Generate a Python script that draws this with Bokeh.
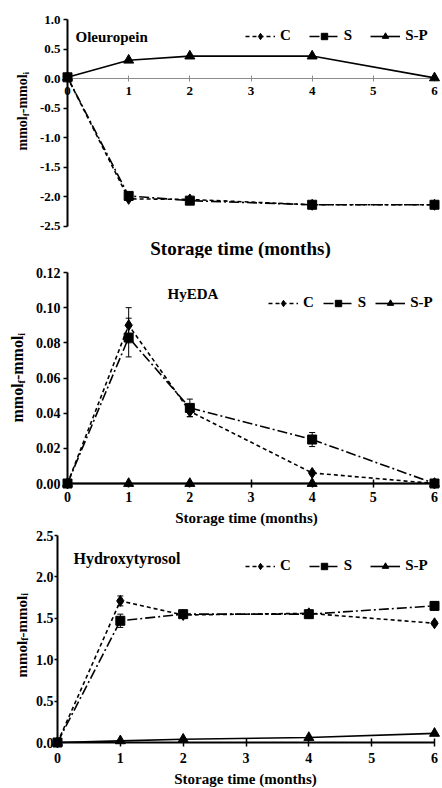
import math
from bokeh.plotting import figure
from bokeh.models import (Range1d, FixedTicker, PrintfTickFormatter, Label, Legend, LegendItem,
                          ColumnDataSource, Whisker, TeeHead, LinearAxis)
from bokeh.layouts import column
from bokeh.embed import file_html
from bokeh.resources import INLINE

# ---------------- data ----------------
months = [0, 1, 2, 4, 6]
x_ticks = [0, 1, 2, 3, 4, 5, 6]
series_names = ["C", "S", "S-P"]

ole_C = [0.02, -2.04, -2.05, -2.14, -2.14]
ole_S = [0.02, -1.99, -2.07, -2.14, -2.14]
ole_SP = [0.02, 0.31, 0.38, 0.38, 0.01]

hyeda_C = [0.0, 0.090, 0.041, 0.006, 0.0]
hyeda_C_err = [0.0, 0.010, 0.003, 0.001, 0.0]
hyeda_S = [0.0, 0.083, 0.043, 0.025, 0.0]
hyeda_S_err = [0.0, 0.011, 0.005, 0.004, 0.0]
hyeda_SP = [0.0, 0.0, 0.0, 0.0, 0.0]

hyd_C = [0.0, 1.71, 1.54, 1.56, 1.44]
hyd_C_err = [0.0, 0.06, 0.02, 0.02, 0.02]
hyd_S = [0.0, 1.47, 1.55, 1.55, 1.65]
hyd_S_err = [0.0, 0.08, 0.02, 0.03, 0.05]
hyd_SP = [0.0, 0.02, 0.04, 0.06, 0.11]

ole_yticks = [-2.5, -2.0, -1.5, -1.0, -0.5, 0.0, 0.5, 1.0]
hyeda_yticks = [0.0, 0.02, 0.04, 0.06, 0.08, 0.10, 0.12]
hyd_yticks = [0.0, 0.5, 1.0, 1.5, 2.0, 2.5]

x_title = "Storage time (months)"

FONT = "Liberation Serif"
ADV = {"m": 0.833, "o": 0.5, "l": 0.278, "-": 0.333, "f": 0.333, "i": 0.278}
W = 442


def text_width(s, size):
    return sum(ADV[c] for c in s) * size


def lab(p, x, y, text, size, align="left", baseline="middle", angle=0.0):
    p.add_layout(Label(x=x, y=y, x_units="screen", y_units="screen", text=text,
                       angle=angle, text_align=align, text_baseline=baseline,
                       text_font=FONT, text_font_style="bold",
                       text_font_size=f"{size}px", text_color="black"))


def add_ylabel(p, bx, sy, F):
    Fs = round(F * 0.65)
    shift = F * 0.22
    pos = sy
    for txt, sub in [("mmol", False), ("f", True), ("-mmol", False), ("i", True)]:
        size = Fs if sub else F
        lab(p, bx + (shift if sub else 0), pos, txt, size, align="left",
            baseline="alphabetic", angle=math.pi / 2)
        pos += text_width(txt, size)


def style_labels(ax, size):
    ax.major_label_text_font = FONT
    ax.major_label_text_font_style = "bold"
    ax.major_label_text_font_size = f"{size}px"
    ax.major_label_text_color = "black"
    ax.minor_tick_line_color = None


def make_panel(height, px0, px6, py_top, py_zero, ytop, ybottom, yticks, yfmt, tick_font,
               top_style=False, xstandoff=4, ystandoff=2, ytick_out=4):
    # the frame fills the whole figure; ranges chosen so the axes cross where they should
    xs = (px6 - px0) / 6.0
    ys = (py_zero - py_top) / (ytop - 0.0) if ytop != 0 else 1
    x_start = -px0 / xs
    x_end = (W - px0) / xs
    y_end = ytop + py_top / ys
    y_start = -(height - py_zero) / ys
    p = figure(width=W, height=height, x_range=Range1d(x_start, x_end),
               y_range=Range1d(y_start, y_end), output_backend="svg", toolbar_location=None,
               x_axis_location=None, y_axis_location=None,
               min_border=0, min_border_left=0, min_border_right=0, min_border_top=0,
               min_border_bottom=0)
    p.grid.visible = False
    p.outline_line_color = None
    p.background_fill_color = "white"

    yf = LinearAxis(fixed_location=0, bounds=(ybottom, ytop), ticker=FixedTicker(ticks=yticks),
                    formatter=PrintfTickFormatter(format=yfmt),
                    axis_line_width=2, axis_line_color="black",
                    major_tick_in=0, major_tick_out=ytick_out, major_tick_line_width=1.5,
                    major_tick_line_color="black", major_label_standoff=ystandoff)
    style_labels(yf, tick_font)
    p.add_layout(yf, "left")
    if top_style:
        xf = LinearAxis(fixed_location=0, bounds=(0, 6), ticker=FixedTicker(ticks=x_ticks),
                        axis_line_width=1, axis_line_color="#8c8c8c",
                        major_tick_in=3, major_tick_out=3, major_tick_line_color="#8c8c8c",
                        major_label_standoff=xstandoff)
    else:
        xf = LinearAxis(fixed_location=0, bounds=(0, 6), ticker=FixedTicker(ticks=x_ticks),
                        axis_line_width=2, axis_line_color="black",
                        major_tick_in=4, major_tick_out=4, major_tick_line_width=1.5,
                        major_tick_line_color="black", major_label_standoff=xstandoff)
    style_labels(xf, tick_font)
    xf.level = "underlay"
    p.add_layout(xf, "below")
    return p


def add_series(p, c, s, sp, c_err=None, s_err=None):
    lc = p.line(months, c, line_color="black", line_width=1.6, line_dash="4 3")
    ls = p.line(months, s, line_color="black", line_width=1.6, line_dash="10 3 2 3")
    lsp = p.line(months, sp, line_color="black", line_width=1.6)
    for vals, err in ((c, c_err), (s, s_err)):
        if err is not None:
            src = ColumnDataSource(dict(x=months,
                                        upper=[v + e for v, e in zip(vals, err)],
                                        lower=[v - e for v, e in zip(vals, err)]))
            p.add_layout(Whisker(source=src, base="x", upper="upper", lower="lower",
                                 line_color="black", line_width=1,
                                 upper_head=TeeHead(size=6, line_width=1, line_color="black"),
                                 lower_head=TeeHead(size=6, line_width=1, line_color="black")))
    mc = p.scatter(months, c, marker="diamond", size=11, fill_color="black", line_color="black")
    ms = p.scatter(months, s, marker="square", size=9, fill_color="black", line_color="black")
    msp = p.scatter(months, sp, marker="triangle", size=10, fill_color="black", line_color="black")
    return [[lc, mc], [ls, ms], [lsp, msp]]


def add_legend(p, groups, vx, vy, spacing):
    items = [LegendItem(label=n, renderers=g) for n, g in zip(series_names, groups)]
    leg = Legend(items=items, orientation="horizontal", location=(vx, vy),
                 glyph_width=30, glyph_height=16, label_height=16, label_width=1,
                 label_standoff=5, spacing=spacing, padding=0, margin=0,
                 border_line_color=None, background_fill_alpha=0,
                 label_text_font=FONT, label_text_font_style="bold",
                 label_text_font_size="15px", label_text_color="black")
    p.add_layout(leg)


# ---------------- panel 1: Oleuropein (figure rows 0-258) ----------------
H1 = 258
p1 = make_panel(H1, 67, 434, 19, 78, 1.0, -2.5, ole_yticks, "%.1f", 13,
                top_style=True, xstandoff=5, ystandoff=3)
# y = 1.0 sits at row 19 and y = 0 at row 78 (60 px per unit)
g1 = add_series(p1, ole_C, ole_S, ole_SP)
add_legend(p1, g1, 245, H1 - 44, 18)
lab(p1, 75, H1 - 36, "Oleuropein", 15)
lab(p1, 240, H1 - 248, x_title, 19, align="center")
add_ylabel(p1, 22, H1 - 150, 14)

# ---------------- panel 2: HyEDA (rows 258-527) ----------------
H2 = 269
p2 = make_panel(H2, 67, 434, 272 - 258, 483 - 258, 0.12, 0.0, hyeda_yticks, "%.2f", 14,
                xstandoff=4, ystandoff=3)
g2 = add_series(p2, hyeda_C, hyeda_S, hyeda_SP, hyeda_C_err, hyeda_S_err)
add_legend(p2, g2, 268, H2 - (311 - 258), 9)
lab(p2, 167, H2 - (293 - 258), "HyEDA", 15)
lab(p2, 246, H2 - (517 - 258), x_title, 15, align="center")
add_ylabel(p2, 17, H2 - (422 - 258), 16)

# ---------------- panel 3: Hydroxytyrosol (rows 527-788) ----------------
H3 = 261
p3 = make_panel(H3, 57, 434, 535 - 527, 742 - 527, 2.5, 0.0, hyd_yticks, "%.1f", 14,
                xstandoff=6, ystandoff=1, ytick_out=3)
g3 = add_series(p3, hyd_C, hyd_S, hyd_SP, hyd_C_err, hyd_S_err)
add_legend(p3, g3, 245, H3 - (574 - 527), 18)
lab(p3, 73, H3 - (558 - 527), "Hydroxytyrosol", 16)
lab(p3, 245, H3 - (778 - 527), x_title, 15, align="center")
add_ylabel(p3, 21, H3 - (677 - 527), 15)

layout = column(p1, p2, p3, spacing=0)
open("out.html", "w").write(file_html(layout, INLINE))
